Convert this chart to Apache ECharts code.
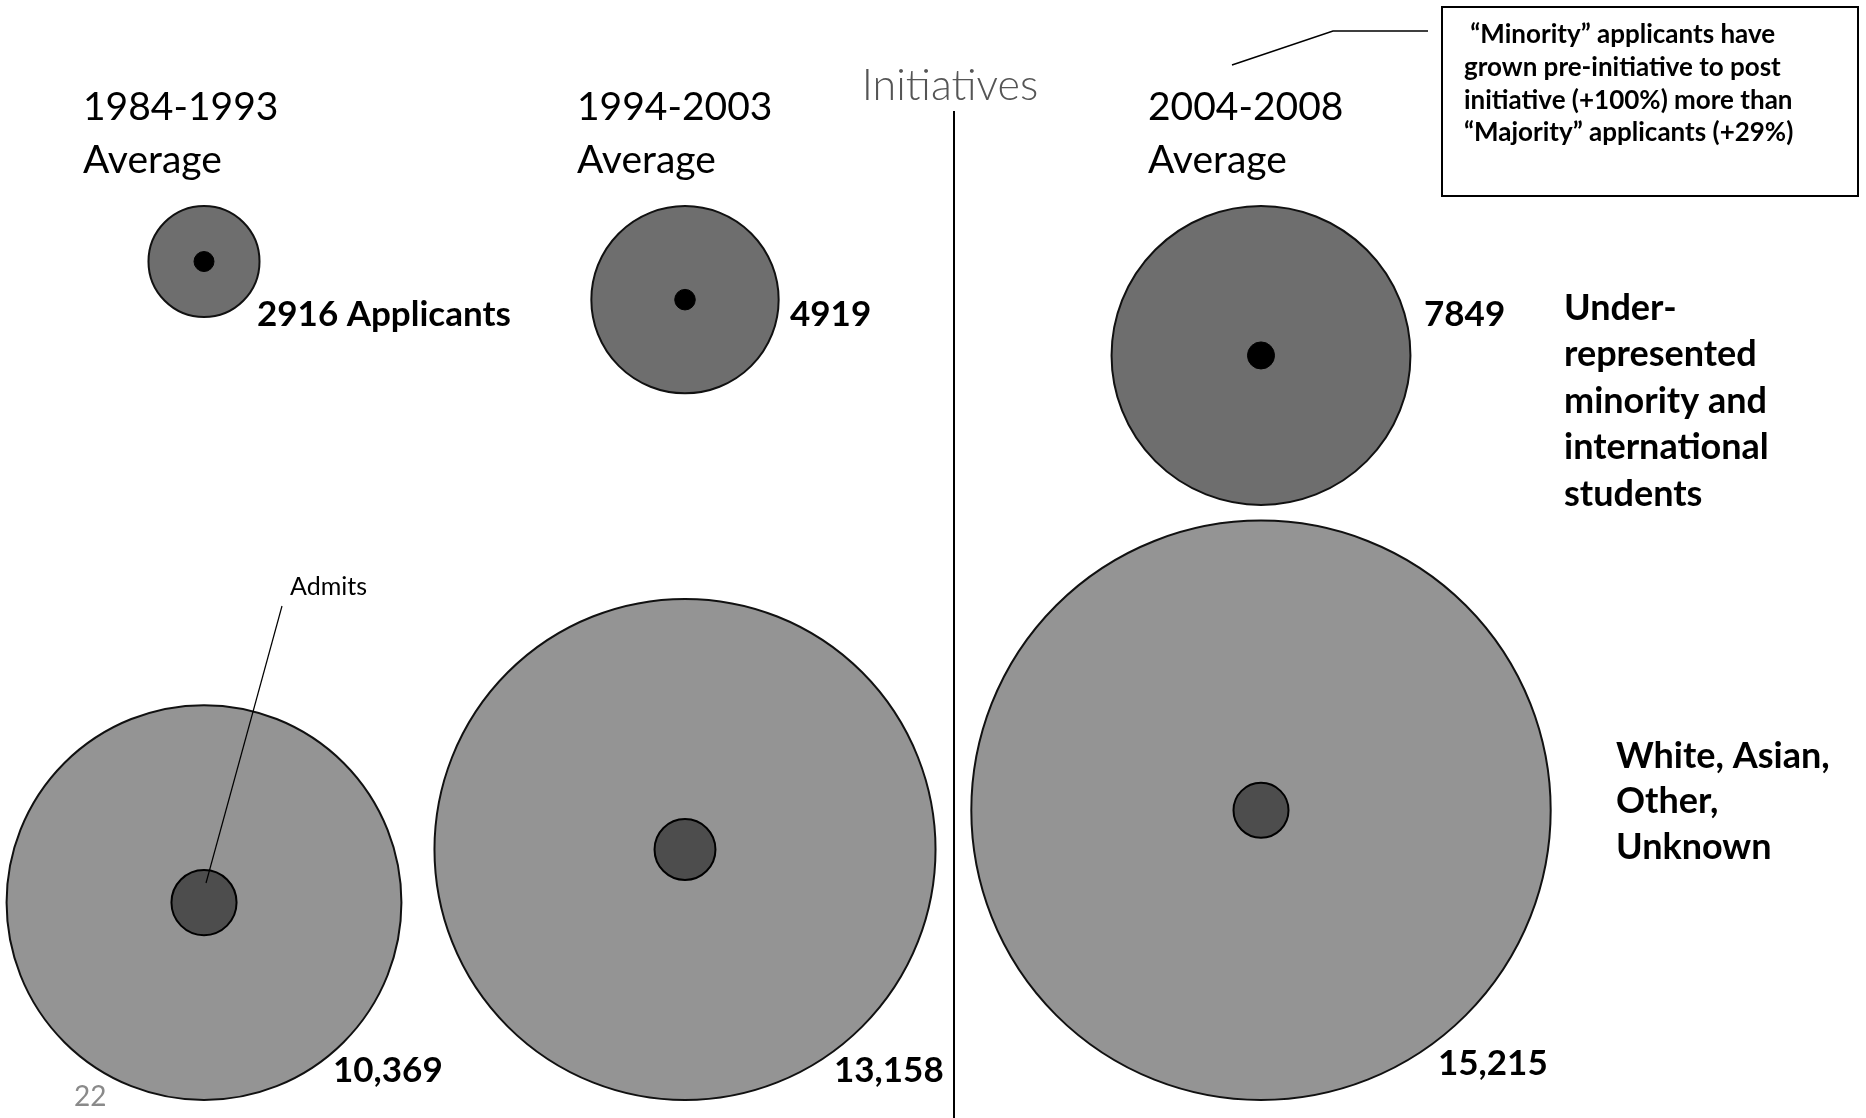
<!DOCTYPE html>
<html><head><meta charset="utf-8">
<script src="https://cdn.jsdelivr.net/npm/echarts@6/dist/echarts.min.js"></script>
<style>html,body{margin:0;padding:0;background:#fff}#c{width:1866px;height:1118px}</style>
</head><body><div id="c"></div>
<script>
// ---------- data ----------
const periods = ['1984-1993', '1994-2003', '2004-2008'];
const periodSubtitle = 'Average';
const groups = ['Under-represented minority and international students', 'White, Asian, Other, Unknown'];
const minorityApplicants = [2916, 4919, 7849];
const majorityApplicants = [10369, 13158, 15215];
const minorityAdmits = [525, 540, 710];
const majorityAdmits = [1710, 1600, 1445];
const dividerLabel = 'Initiatives';
const calloutLines = ['\u00a0\u201cMinority\u201d applicants have', 'grown pre-initiative to post', 'initiative (+100%) more than', '\u201cMajority\u201d applicants (+29%)'];
const minorityLabelLines = ['Under-', 'represented', 'minority and', 'international', 'students'];
const majorityLabelLines = ['White, Asian,', 'Other,', 'Unknown'];
const admitsLabel = 'Admits';
const applicantsWord = 'Applicants';
const pageNumber = '22';

// ---------- layout ----------
const colCenters = [204, 685, 1261];
const TOP = 206, BOT = 1100;
const DIAM_PER_UNIT = 0.03808;   // symbol diameter (px) per applicant
const FONT = 'Lato, "Open Sans", sans-serif';
const titleX = [83, 577, 1148];
const minLabelX = [257, 790, 1424];
const majLabelX = [333, 834, 1438];
const majLabelY = [1071, 1071, 1064];

const sizeOf = v => v * DIAM_PER_UNIT;

const minorityStyle = { color: '#6e6e6e', borderColor: '#111', borderWidth: 2, opacity: 1 };
const majorityStyle = { color: '#949494', borderColor: '#111', borderWidth: 2, opacity: 1 };

const grid = [], xAxis = [], yAxis = [], series = [];
periods.forEach((p, i) => {
  grid.push({ left: colCenters[i] - 40, width: 80, top: TOP, height: BOT - TOP });
  xAxis.push({ gridIndex: i, type: 'category', data: [p], boundaryGap: true, show: false });
  yAxis.push({ gridIndex: i, type: 'category', data: groups, inverse: true, boundaryGap: false, show: false });
  const minD = sizeOf(minorityApplicants[i]);
  const majD = sizeOf(majorityApplicants[i]);
  series.push({
    type: 'scatter', xAxisIndex: i, yAxisIndex: i, clip: false, z: 2, silent: true,
    data: [
      { value: [p, groups[0], minorityApplicants[i]], symbolSize: minD, symbolOffset: [0, minD / 2], itemStyle: minorityStyle },
      { value: [p, groups[1], majorityApplicants[i]], symbolSize: majD, symbolOffset: [0, -majD / 2], itemStyle: majorityStyle }
    ]
  });
  series.push({
    type: 'scatter', xAxisIndex: i, yAxisIndex: i, clip: false, z: 3, silent: true,
    data: [
      { value: [p, groups[0], minorityAdmits[i]], symbolSize: sizeOf(minorityAdmits[i]), symbolOffset: [0, minD / 2],
        itemStyle: { color: '#000', borderColor: '#000', borderWidth: 1, opacity: 1 } },
      { value: [p, groups[1], majorityAdmits[i]], symbolSize: sizeOf(majorityAdmits[i]), symbolOffset: [0, -majD / 2],
        itemStyle: { color: '#4d4d4d', borderColor: '#000', borderWidth: 2, opacity: 1 } }
    ]
  });
});

const txt = (text, x, y, font, extra) => Object.assign({
  type: 'text', x: x, y: y, z: 100,
  style: Object.assign({ text: text, font: font, fill: '#000', textVerticalAlign: 'middle', textAlign: 'left' }, extra || {})
});

const graphic = [];
periods.forEach((p, i) => {
  graphic.push(txt(p, titleX[i], 107, '39px ' + FONT));
  graphic.push(txt(periodSubtitle, titleX[i], 160, '39px ' + FONT));
  const minText = i === 0 ? minorityApplicants[i] + ' ' + applicantsWord : String(minorityApplicants[i]);
  graphic.push(txt(minText, minLabelX[i], 315, 'bold 35px ' + FONT));
  graphic.push(txt(majorityApplicants[i].toLocaleString('en-US'), majLabelX[i], majLabelY[i], 'bold 35px ' + FONT));
});
graphic.push(txt(dividerLabel, 950, 86, '300 43px ' + FONT, { textAlign: 'center', fill: '#555' }));
graphic.push({ type: 'line', z: 100, shape: { x1: 954, y1: 111, x2: 954, y2: 1118 }, style: { stroke: '#000', lineWidth: 2 } });
minorityLabelLines.forEach((t, k) => graphic.push(txt(t, 1564, 308 + k * 46.6, 'bold 36px ' + FONT)));
majorityLabelLines.forEach((t, k) => graphic.push(txt(t, 1616, 756 + k * 45.5, 'bold 36px ' + FONT)));
graphic.push({ type: 'rect', z: 99, shape: { x: 1442, y: 7, width: 416, height: 189 }, style: { fill: '#fff', stroke: '#000', lineWidth: 2 } });
calloutLines.forEach((t, k) => graphic.push(txt(t, 1464, 35 + k * 32.7, 'bold 26px ' + FONT)));
graphic.push({ type: 'polyline', z: 100, shape: { points: [[1232, 65], [1333, 31], [1428, 31]] }, style: { stroke: '#000', lineWidth: 1.5, fill: null } });
graphic.push(txt(admitsLabel, 290, 587, '25px ' + FONT));
graphic.push({ type: 'line', z: 100, shape: { x1: 282, y1: 606, x2: 206, y2: 883 }, style: { stroke: '#000', lineWidth: 1.2 } });
graphic.push(txt(pageNumber, 74, 1097, '28px ' + FONT, { fill: '#8a8a8a' }));

const chart = echarts.init(document.getElementById('c'), null, { renderer: 'canvas' });
chart.setOption({
  backgroundColor: '#fff',
  animation: false,
  grid: grid, xAxis: xAxis, yAxis: yAxis, series: series,
  graphic: graphic
});
</script></body></html>
